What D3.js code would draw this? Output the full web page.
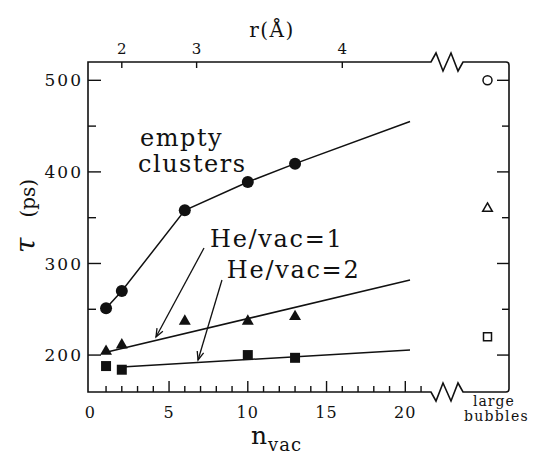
<!DOCTYPE html>
<html>
<head>
<meta charset="utf-8">
<script src="https://cdn.jsdelivr.net/npm/d3@7"></script>
<style>
  html, body { margin: 0; padding: 0; background: #fff; }
  svg { display: block; }
  text { font-family: "DejaVu Serif", "Liberation Serif", serif; fill: #111; }
</style>
</head>
<body>
<script>
// ---------------- data ----------------
const emptyN   = [1, 2, 6, 10, 13];
const emptyTau = [251, 270, 358, 389, 409];
const he1N     = [1, 2, 6, 10, 13];
const he1Tau   = [204, 211, 237, 237, 242];
const he2N     = [1, 2, 10, 13];
const he2Tau   = [188, 184, 200, 197];

// drawn guide lines
const emptyLineN   = [1, 2, 6, 10, 13, 20.3];
const emptyLineTau = [251, 270, 358, 389, 409, 455];
const he1LineN     = [1, 20.3];
const he1LineTau   = [203, 282];
const he2LineN     = [2, 20.3];
const he2LineTau   = [187, 205.5];

// large bubbles (open symbols, right panel)
const bubbleCategory = ["large bubbles"];
const bubbleEmptyTau = [500];
const bubbleHe1Tau   = [360];
const bubbleHe2Tau   = [220];

// ticks
const xTickLabels = [0, 5, 10, 15, 20];
const xMinorTicks = d3.range(1, 22);
const yTickLabels = [200, 300, 400, 500];
const yMinorTicks = [250, 350, 450];
const rTickLabels = [2, 3, 4];

// ---------------- layout ----------------
const W = 535, H = 457;
const L = 88, R = 509, T = 62, B = 392;
const breakStart = 431, breakEnd = 463;

const svg = d3.select("body").append("svg").attr("width", W).attr("height", H);

const x = d3.scaleLinear().domain([0, 20]).range([90.3, 405.3]);
const y = d3.scaleLinear().domain([160, 520]).range([391.7, 62]);
const xb = d3.scalePoint().domain(bubbleCategory).range([466, 509]).padding(0.5);
const rToN = r => r * r * r / 4;   // n_vac = r^3 / 4

const ink = "#111";

// ---------------- frame with breaks ----------------
const zig = "l5,-9 l7,18 l8,-18 l7,18 l5,-9";
svg.append("path")
  .attr("d", `M${L},${T} H${breakStart} ${zig} H${R - 3} q3,0 3,3 V${B - 3} q0,3 -3,3 H${breakEnd} ` +
             `l-5,-9 l-7,18 l-8,-18 l-7,18 l-5,-9 H${L} Z`)
  .attr("fill", "none").attr("stroke", ink).attr("stroke-width", 1.6);

// ---------------- ticks ----------------
const tickG = svg.append("g").attr("stroke", ink).attr("stroke-width", 1.4);
// bottom
tickG.selectAll(".xt").data(xMinorTicks).join("line")
  .attr("x1", d => x(d)).attr("x2", d => x(d))
  .attr("y1", B).attr("y2", d => B - (d % 5 === 0 ? 11 : 6));
// left & right
const yAll = yTickLabels.map(v => ({v, major: true})).concat(yMinorTicks.map(v => ({v, major: false})));
tickG.selectAll(".yl").data(yAll).join("line")
  .attr("x1", L).attr("x2", d => L + (d.major ? 13 : 8))
  .attr("y1", d => y(d.v)).attr("y2", d => y(d.v));
tickG.selectAll(".yr").data(yAll).join("line")
  .attr("x1", R).attr("x2", d => R - (d.major ? 12 : 7))
  .attr("y1", d => y(d.v)).attr("y2", d => y(d.v));
// top (r axis)
tickG.selectAll(".rt").data(rTickLabels).join("line")
  .attr("x1", d => x(rToN(d))).attr("x2", d => x(rToN(d)))
  .attr("y1", T).attr("y2", T + 6);

// ---------------- tick labels ----------------
svg.selectAll(".xl").data(xTickLabels).join("text")
  .attr("x", d => x(d)).attr("y", 418)
  .attr("text-anchor", "middle").attr("font-size", 16).attr("letter-spacing", 1)
  .text(d => d);
svg.selectAll(".yll").data(yTickLabels).join("text")
  .attr("x", 83).attr("y", d => y(d)).attr("dy", "0.36em")
  .attr("text-anchor", "end").attr("font-size", 17).attr("letter-spacing", 2)
  .text(d => d);
svg.selectAll(".rl").data(rTickLabels).join("text")
  .attr("x", d => x(rToN(d))).attr("y", 54)
  .attr("text-anchor", "middle").attr("font-size", 15)
  .text(d => d);

// ---------------- axis titles ----------------
svg.append("text").attr("x", 272).attr("y", 37).attr("text-anchor", "middle")
  .attr("font-size", 20).attr("letter-spacing", 1.5).text("r(Å)");

const xt = svg.append("text").attr("x", 251).attr("y", 444).attr("font-size", 25);
xt.append("tspan").text("n");
xt.append("tspan").attr("dy", 7).attr("dx", 1).attr("font-size", 18).attr("letter-spacing", 1).text("vac");

const yt = svg.append("text").attr("transform", "translate(35,253) rotate(-90)");
yt.append("tspan").attr("font-size", 28).attr("font-style", "italic").text("τ");
yt.append("tspan").attr("dx", 20).attr("font-size", 20).text("(ps)");

svg.append("text").attr("x", 473).attr("y", 406).attr("font-size", 14).attr("letter-spacing", 1).text("large");
svg.append("text").attr("x", 464).attr("y", 421).attr("font-size", 14).attr("letter-spacing", 1.3).text("bubbles");

// ---------------- lines ----------------
const line = d3.line().x(d => x(d[0])).y(d => y(d[1]));
const lineG = svg.append("g").attr("fill", "none").attr("stroke", ink).attr("stroke-width", 1.5);
lineG.append("path").attr("d", line(d3.zip(emptyLineN, emptyLineTau)));
lineG.append("path").attr("d", line(d3.zip(he1LineN, he1LineTau)));
lineG.append("path").attr("d", line(d3.zip(he2LineN, he2LineTau)));

// ---------------- markers ----------------
svg.selectAll(".c").data(d3.zip(emptyN, emptyTau)).join("circle")
  .attr("cx", d => x(d[0])).attr("cy", d => y(d[1])).attr("r", 6).attr("fill", ink);
const tri = d3.symbol().type(d3.symbolTriangle).size(62);
svg.selectAll(".t").data(d3.zip(he1N, he1Tau)).join("path")
  .attr("d", tri).attr("transform", d => `translate(${x(d[0])},${y(d[1])})`).attr("fill", ink);
const sq = d3.symbol().type(d3.symbolSquare).size(100);
svg.selectAll(".s").data(d3.zip(he2N, he2Tau)).join("path")
  .attr("d", sq).attr("transform", d => `translate(${x(d[0])},${y(d[1])})`).attr("fill", ink);

// open symbols for large bubbles
const openG = svg.append("g").attr("fill", "none").attr("stroke", ink).attr("stroke-width", 1.5);
openG.selectAll(".oc").data(bubbleEmptyTau).join("circle")
  .attr("cx", xb(bubbleCategory[0])).attr("cy", d => y(d)).attr("r", 4.5);
openG.selectAll(".ot").data(bubbleHe1Tau).join("path")
  .attr("d", d3.symbol().type(d3.symbolTriangle).size(40))
  .attr("transform", d => `translate(${xb(bubbleCategory[0])},${y(d)})`);
openG.selectAll(".os").data(bubbleHe2Tau).join("path")
  .attr("d", d3.symbol().type(d3.symbolSquare).size(64))
  .attr("transform", d => `translate(${xb(bubbleCategory[0])},${y(d)})`);

// ---------------- annotations ----------------
svg.append("text").attr("x", x(3.16)).attr("y", y(428.3)).attr("font-size", 24).attr("letter-spacing", 1.5).text("empty");
svg.append("text").attr("x", x(3.03)).attr("y", y(399.4)).attr("font-size", 24).attr("letter-spacing", 1.5).text("clusters");
svg.append("text").attr("x", x(7.6)).attr("y", y(317.6)).attr("font-size", 24).attr("letter-spacing", 1.7).text("He/vac=1");
svg.append("text").attr("x", x(8.67)).attr("y", y(284.4)).attr("font-size", 24).attr("letter-spacing", 1.7).text("He/vac=2");

function arrow(n0, v0, n1, v1) {
  const x0 = x(n0), y0 = y(v0), x1 = x(n1), y1 = y(v1);
  const a = Math.atan2(y1 - y0, x1 - x0), len = 9, sp = 0.38;
  const g = svg.append("g").attr("stroke", ink).attr("stroke-width", 1.3).attr("fill", "none");
  g.append("line").attr("x1", x0).attr("y1", y0).attr("x2", x1).attr("y2", y1);
  g.append("path").attr("d",
    `M${x1 - len * Math.cos(a - sp)},${y1 - len * Math.sin(a - sp)} L${x1},${y1} L${x1 - len * Math.cos(a + sp)},${y1 - len * Math.sin(a + sp)}`);
}
arrow(7.22, 316.9, 4.17, 219.7);
arrow(8.36, 282, 6.84, 194.6);
</script>
</body>
</html>
